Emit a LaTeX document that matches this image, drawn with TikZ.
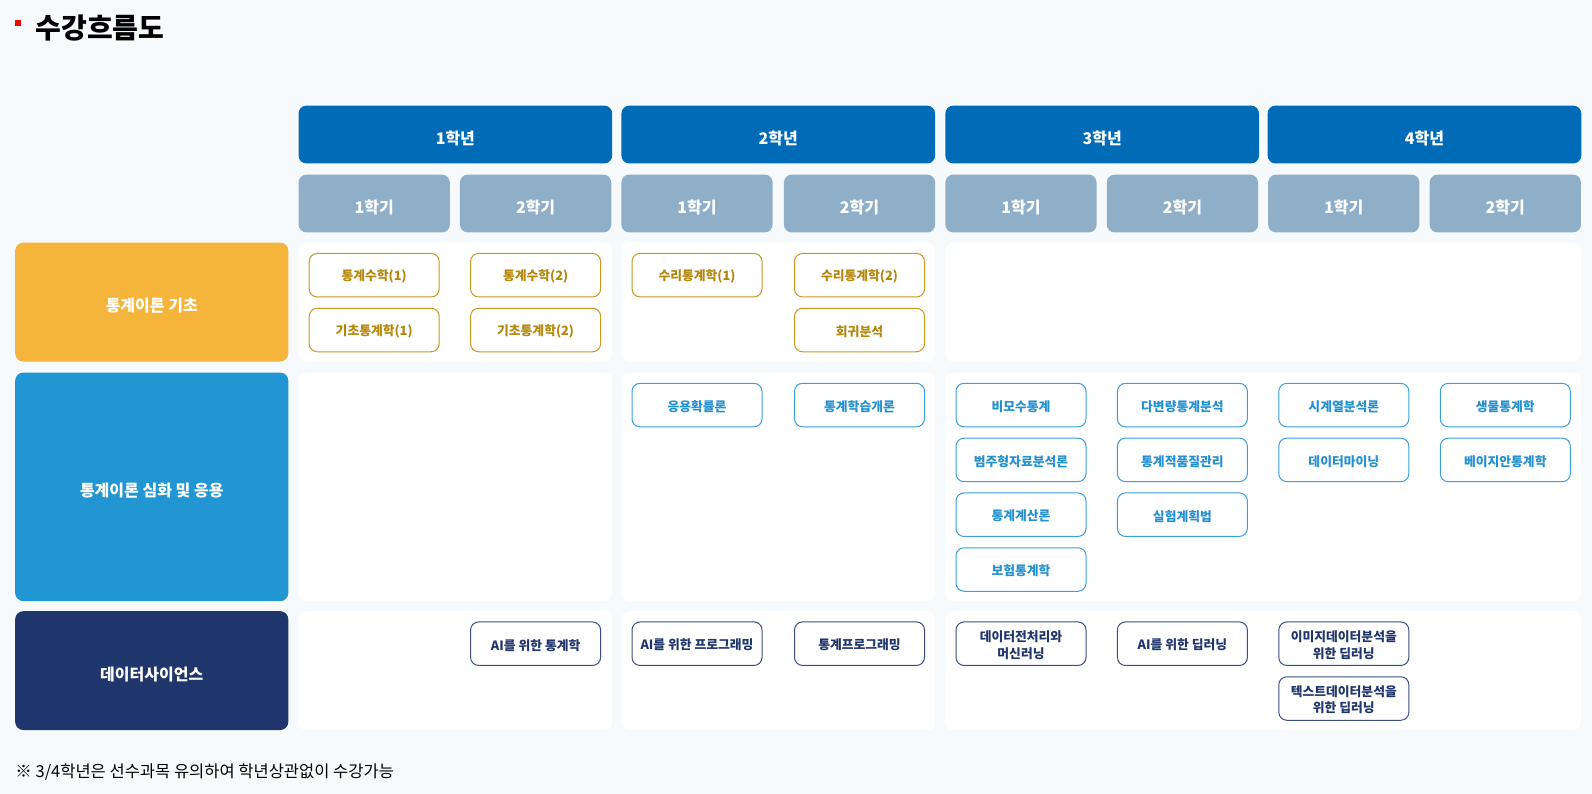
\documentclass[tikz,border=0pt]{standalone}
\usepackage{fontspec}
\setmainfont{Noto Sans CJK KR}
\definecolor{bgc}{HTML}{F7FAFC}
\definecolor{yearc}{HTML}{006CB7}
\definecolor{semc}{HTML}{8FAFC9}
\definecolor{yelc}{HTML}{F5B53D}
\definecolor{bluec}{HTML}{2196D3}
\definecolor{navyc}{HTML}{20376E}
\definecolor{goldb}{HTML}{C9981F}
\definecolor{goldt}{HTML}{B4870A}
\definecolor{lblueb}{HTML}{3AA0DC}
\definecolor{lbluet}{HTML}{2390D0}
\definecolor{navyb}{HTML}{3C4F80}
\definecolor{navyt}{HTML}{1F356B}
\tikzset{
  yearbox/.style={fill=yearc, rounded corners=8pt, minimum width=313.7pt, minimum height=57.9pt, inner sep=0pt},
  sembox/.style={fill=semc, rounded corners=8pt, minimum width=151.3pt, minimum height=57.9pt, inner sep=0pt},
  labelbox/.style={fill=#1, rounded corners=8pt, minimum width=273.1pt, inner sep=0pt},
  hdrtext/.style={inner sep=0pt, text=white, font=\fontsize{16}{19}\selectfont\bfseries},
  panel/.style={fill=white, rounded corners=8pt, inner sep=0pt},
  course/.style={draw=#1b, line width=1pt, fill=white, rounded corners=8pt, minimum width=130pt, minimum height=43.5pt, inner sep=0pt},
  ctext/.style={text=#1t, inner sep=0pt, align=center, font=\fontsize{12.8}{16.3}\selectfont\bfseries},
}
\newcommand{\hdr}[4]{\node[#1] (#2) at (#3) {};
  \node[hdrtext] (#2t) at ([yshift=-4pt]#2.center) {#4};}
\newcommand{\crs}[4]{\node[course=#1] (#2) at (#3) {};
  \node[ctext=#1] (#2t) at ([yshift=-1.5pt]#2.center) {#4};}
\begin{document}
\begin{tikzpicture}[x=1pt,y=-1pt]
\useasboundingbox[fill=bgc] (0,0) rectangle (1592,794);
% title
\fill[red] (15,19.8) rectangle (21,25.6);
\node[anchor=west, inner sep=0pt, font=\fontsize{28}{31}\selectfont\bfseries] (title) at (35.5,28.4) {수강흐름도};
% year headers
\hdr{yearbox}{y1}{455.35,134.55}{1학년}
\hdr{yearbox}{y2}{778.25,134.55}{2학년}
\hdr{yearbox}{y3}{1102.15,134.55}{3학년}
\hdr{yearbox}{y4}{1424.45,134.55}{4학년}
% semester headers
\hdr{sembox}{s1}{374.2,203.55}{1학기}
\hdr{sembox}{s2}{535.6,203.55}{2학기}
\hdr{sembox}{s3}{697.0,203.55}{1학기}
\hdr{sembox}{s4}{859.5,203.55}{2학기}
\hdr{sembox}{s5}{1021.0,203.55}{1학기}
\hdr{sembox}{s6}{1182.4,203.55}{2학기}
\hdr{sembox}{s7}{1343.8,203.55}{1학기}
\hdr{sembox}{s8}{1505.3,203.55}{2학기}
% row labels
\hdr{labelbox=yelc, minimum height=118.8pt}{r1}{151.75,302.1}{통계이론 기초}
\hdr{labelbox=bluec, minimum height=228.5pt}{r2}{151.75,486.85}{통계이론 심화 및 응용}
\hdr{labelbox=navyc, minimum height=118.8pt}{r3}{151.75,670.6}{데이터사이언스}
% panels
\node[panel, minimum width=313.7pt, minimum height=118.8pt] (p11) at (455.35,302.1) {};
\node[panel, minimum width=313.7pt, minimum height=118.8pt] (p12) at (778.25,302.1) {};
\node[panel, minimum width=635.5pt, minimum height=118.8pt] (p13) at (1263.05,302.1) {};
\node[panel, minimum width=313.7pt, minimum height=228.5pt] (p21) at (455.35,486.85) {};
\node[panel, minimum width=313.7pt, minimum height=228.5pt] (p22) at (778.25,486.85) {};
\node[panel, minimum width=635.5pt, minimum height=228.5pt] (p23) at (1263.05,486.85) {};
\node[panel, minimum width=313.7pt, minimum height=118.8pt] (p31) at (455.35,670.6) {};
\node[panel, minimum width=313.7pt, minimum height=118.8pt] (p32) at (778.25,670.6) {};
\node[panel, minimum width=635.5pt, minimum height=118.8pt] (p33) at (1263.05,670.6) {};
% row 1 courses
\crs{gold}{c1}{374.2,275.2}{통계수학(1)}
\crs{gold}{c2}{374.2,330.0}{기초통계학(1)}
\crs{gold}{c3}{535.6,275.2}{통계수학(2)}
\crs{gold}{c4}{535.6,330.0}{기초통계학(2)}
\crs{gold}{c5}{697.0,275.2}{수리통계학(1)}
\crs{gold}{c6}{859.5,275.2}{수리통계학(2)}
\crs{gold}{c7}{859.5,330.0}{회귀분석}
% row 2 courses
\crs{lblue}{d1}{697.0,405.1}{응용확률론}
\crs{lblue}{d2}{859.5,405.1}{통계학습개론}
\crs{lblue}{d3}{1021.0,405.1}{비모수통계}
\crs{lblue}{d4}{1021.0,459.9}{범주형자료분석론}
\crs{lblue}{d5}{1021.0,514.7}{통계계산론}
\crs{lblue}{d6}{1021.0,569.5}{보험통계학}
\crs{lblue}{d7}{1182.4,405.1}{다변량통계분석}
\crs{lblue}{d8}{1182.4,459.9}{통계적품질관리}
\crs{lblue}{d9}{1182.4,514.7}{실험계획법}
\crs{lblue}{d10}{1343.8,405.1}{시계열분석론}
\crs{lblue}{d11}{1343.8,459.9}{데이터마이닝}
\crs{lblue}{d12}{1505.3,405.1}{생물통계학}
\crs{lblue}{d13}{1505.3,459.9}{베이지안통계학}
% row 3 courses
\crs{navy}{e1}{535.6,643.7}{AI를 위한 통계학}
\crs{navy}{e2}{697.0,643.7}{AI를 위한 프로그래밍}
\crs{navy}{e3}{859.5,643.7}{통계프로그래밍}
\crs{navy}{e4}{1021.0,643.7}{데이터전처리와\\머신러닝}
\crs{navy}{e5}{1182.4,643.7}{AI를 위한 딥러닝}
\crs{navy}{e6}{1343.8,643.7}{이미지데이터분석을\\위한 딥러닝}
\crs{navy}{e7}{1343.8,698.5}{텍스트데이터분석을\\위한 딥러닝}
% footnote
\node[anchor=west, inner sep=0pt, font=\fontsize{16.5}{19}\selectfont] (note) at (15.2,772.4) {※ 3/4학년은 선수과목 유의하여 학년상관없이 수강가능};
\end{tikzpicture}
\end{document}
